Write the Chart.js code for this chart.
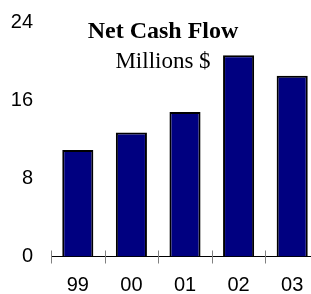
<!DOCTYPE html>
<html>
<head>
<meta charset="utf-8">
<script src="https://cdn.jsdelivr.net/npm/chart.js@4"></script>
<style>
  html, body { margin: 0; padding: 0; background: #fff; overflow: hidden; }
  #wrap { width: 319px; height: 294px; position: relative; }
</style>
</head>
<body>
<div id="wrap"><canvas id="net-cash-flow"></canvas></div>
<script>
var years = ['99', '00', '01', '02', '03'];
var netCashFlow = [10.9, 12.7, 14.8, 20.6, 18.5];
var yTicks = [0, 8, 16, 24];
var titleLines = ['Net Cash Flow', 'Millions $'];

// titulo desenhado por cima da area do grafico, como no original
var titleOverlay = {
    id: 'titleOverlay',
    afterDraw: function (chart) {
        var c = chart.ctx;
        c.save();
        c.fillStyle = '#000';
        c.textAlign = 'center';
        c.textBaseline = 'alphabetic';
        c.font = 'bold 24px "Liberation Serif", "Times New Roman", serif';
        c.fillText(titleLines[0], 163, 38);
        c.font = '23px "Liberation Serif", "Times New Roman", serif';
        c.fillText(titleLines[1], 163, 68);
        c.restore();
    }
};

// marcas do eixo x cruzando a linha, nas divisas das categorias
var crossTicks = {
    id: 'crossTicks',
    afterDatasetsDraw: function (chart) {
        var xs = chart.scales.x;
        var c = chart.ctx;
        c.save();
        c.strokeStyle = '#808080';
        c.lineWidth = 1;
        for (var i = 0; i <= years.length; i++) {
            var px = Math.round(xs.getPixelForValue(i - 0.5)) + 0.5;
            c.beginPath();
            c.moveTo(px, xs.top - 6);
            c.lineTo(px, xs.top + 7);
            c.stroke();
        }
        c.restore();
    }
};

var ctx = document.getElementById('net-cash-flow');

var data = {
    labels: years,
    datasets: [{
        label: 'Net Cash Flow',
        data: netCashFlow,
        backgroundColor: '#000080',
        borderColor: '#000000',
        borderWidth: 2,
        borderSkipped: 'start',
        categoryPercentage: 1,
        barPercentage: 0.58
    }]
};

var config = {
    type: 'bar',
    data: data,
    options: {
        responsive: true,
        maintainAspectRatio: false,
        animation: false,
        layout: { padding: { top: 20, right: 0, bottom: 0, left: 0 } },
        plugins: {
            legend: { display: false },
            tooltip: { enabled: false },
            title: { display: false }
        },
        scales: {
            x: {
                grid: { display: false },
                border: { display: true, color: '#000', width: 1 },
                ticks: {
                    color: '#000',
                    padding: 8.5,
                    font: { family: '"Liberation Sans", Arial, sans-serif', size: 20 }
                },
                afterFit: function (scale) { scale.height = 37.5; }
            },
            y: {
                min: 0,
                max: 24,
                afterBuildTicks: function (scale) {
                    scale.ticks = yTicks.map(function (v) { return { value: v }; });
                },
                grid: { display: false },
                border: { display: false },
                ticks: {
                    color: '#000',
                    padding: 10,
                    font: { family: '"Liberation Sans", Arial, sans-serif', size: 20 }
                },
                afterFit: function (scale) { scale.width = 51; }
            }
        }
    },
    plugins: [titleOverlay, crossTicks]
};

new Chart(ctx, config);
</script>
</body>
</html>
